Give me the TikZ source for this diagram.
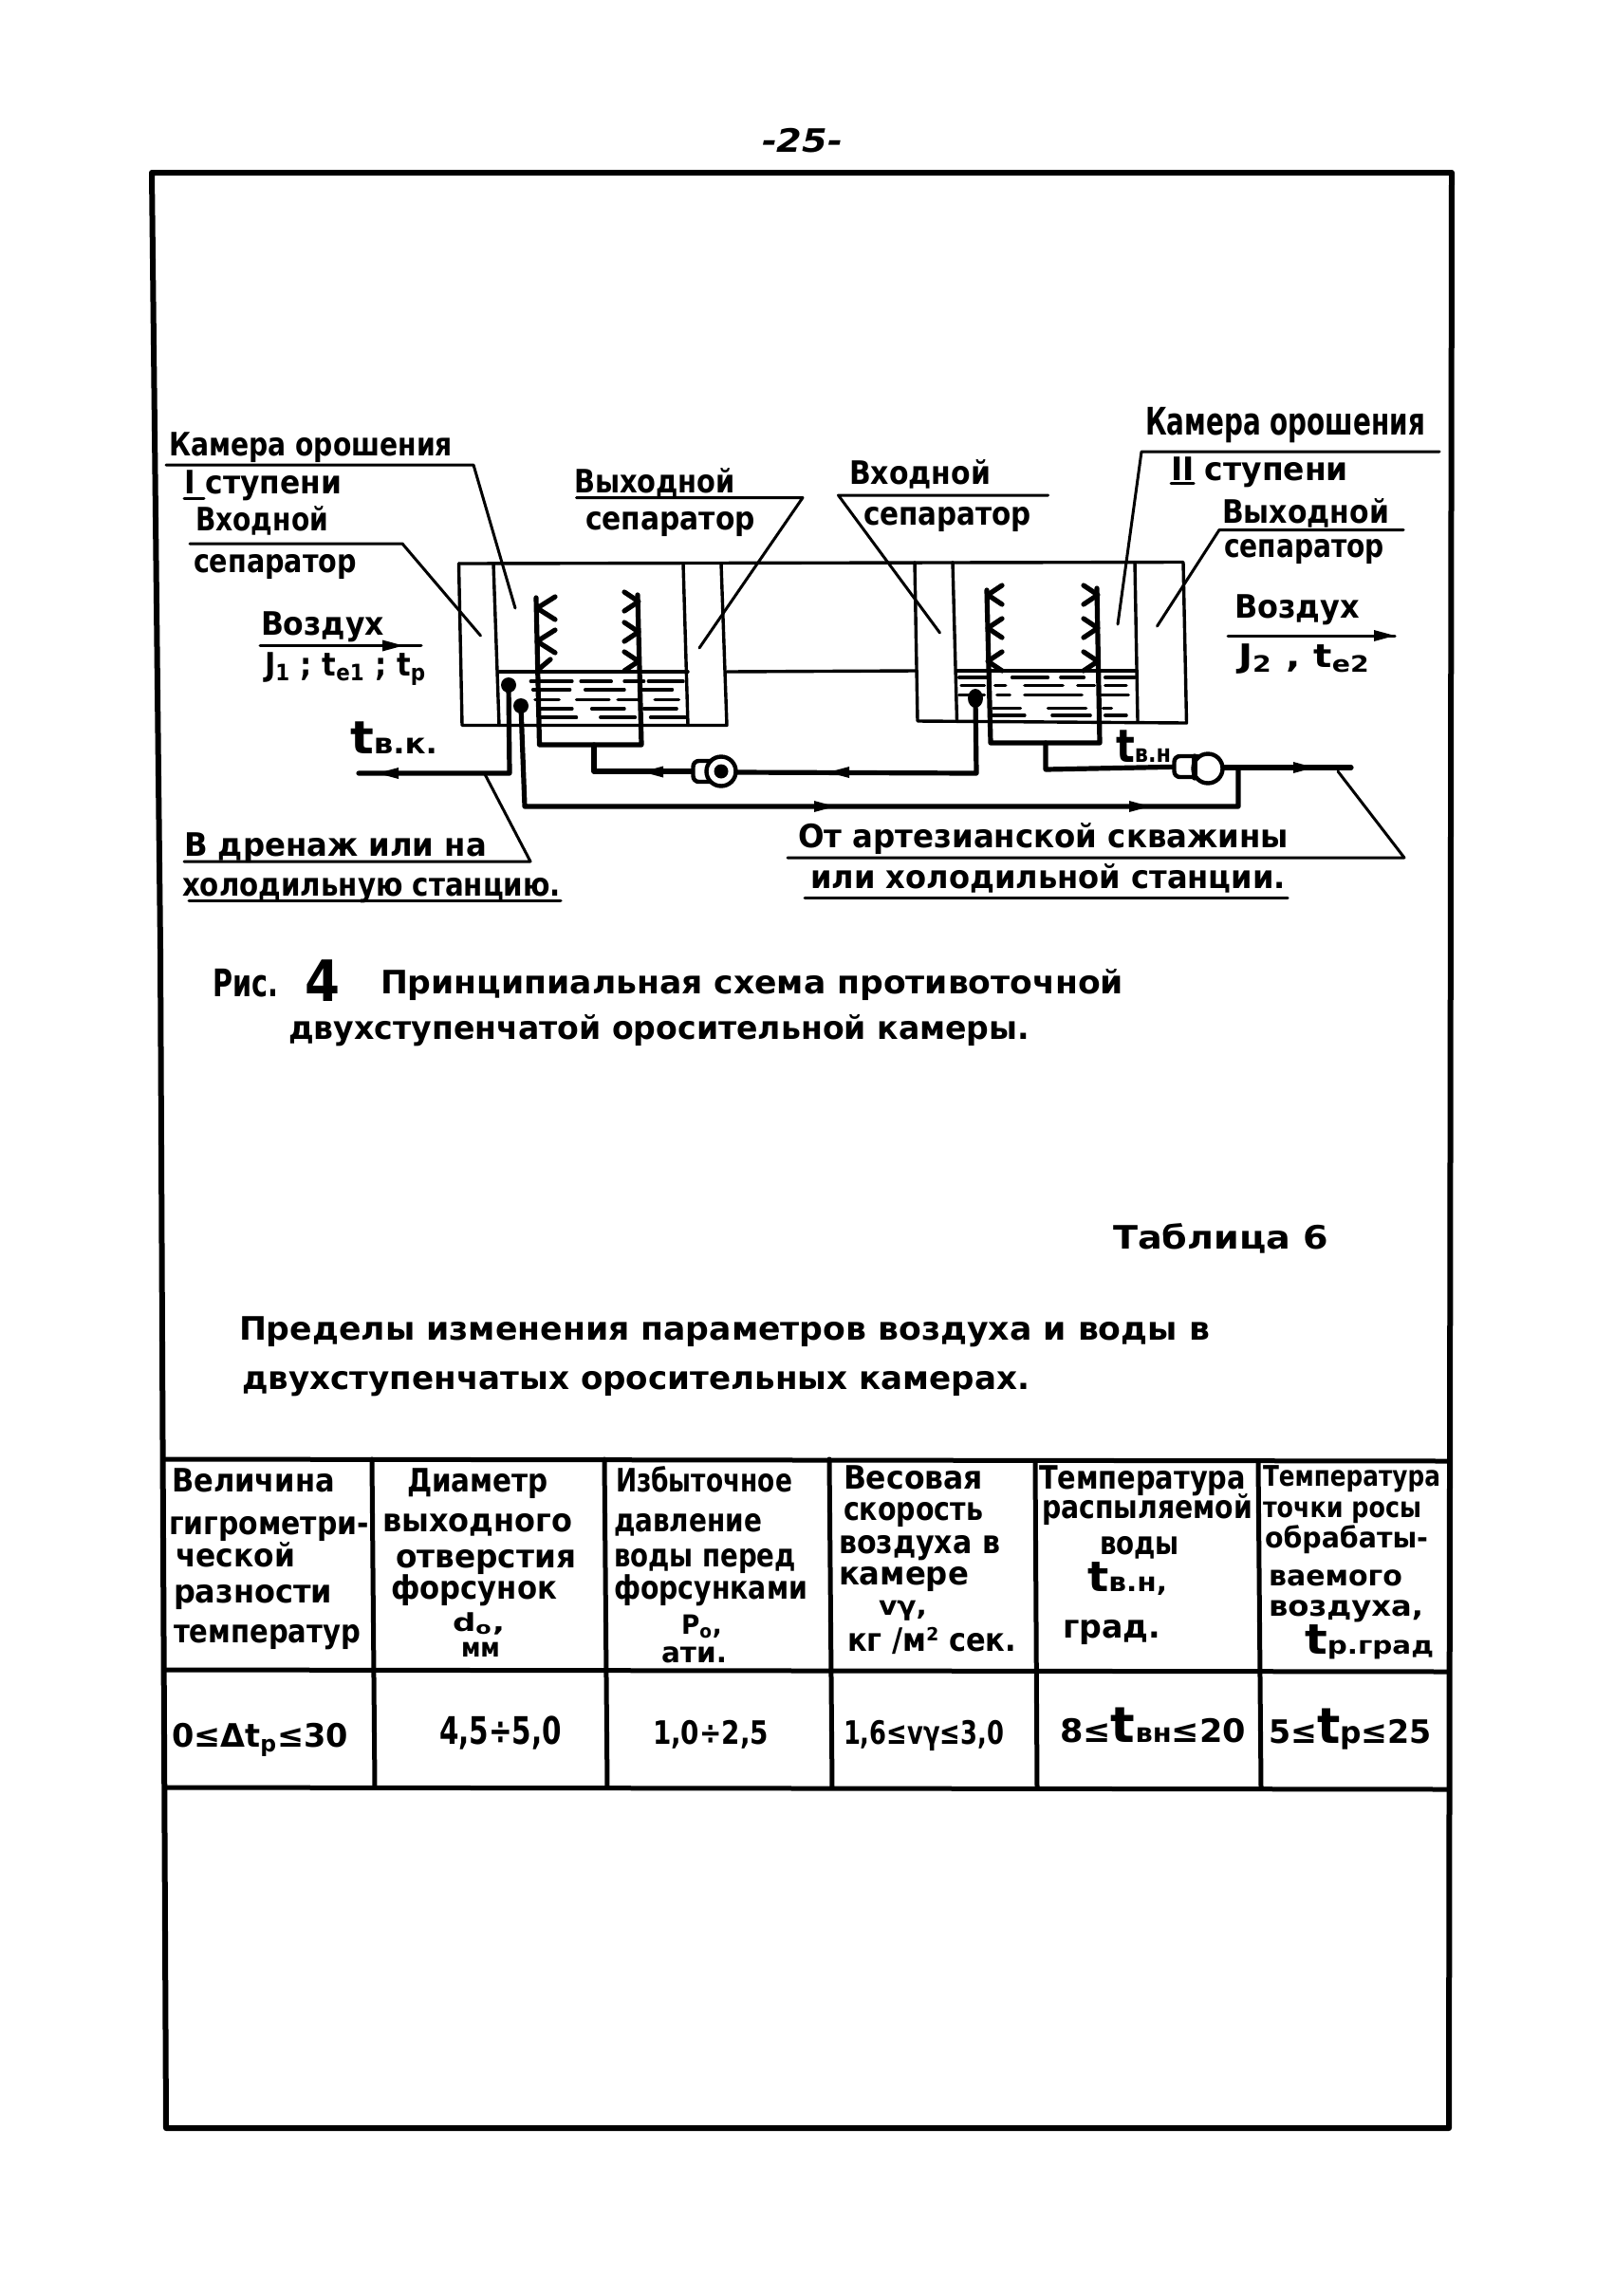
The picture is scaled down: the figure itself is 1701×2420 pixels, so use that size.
\documentclass[tikz,border=0pt]{standalone}
\usepackage{fontspec}
\usepackage{graphicx}
\setmainfont{DejaVu Sans}
\newdimen\pxu \pxu=0.5pt
\newcounter{lblc}
\tikzset{
  pagefont/.style={font=\bfseries\fontsize{17}{17}\selectfont},
  lbl/.style={pagefont,anchor=base west,inner sep=0pt,outer sep=0pt},
  framel/.style={line width=3pt,line cap=round,line join=round},
  tablel/.style={line width=2.5pt,line cap=round},
  wall/.style={line width=1.7pt,line join=round,line cap=round},
  pipe/.style={line width=2.6pt,line join=round,line cap=round},
  leader/.style={line width=1.5pt,line join=round,line cap=round},
  water/.style={line width=1.7pt,line cap=round},
  pumpc/.style={circle,draw,line width=2.2pt,fill=white,minimum size=15.5pt,inner sep=0pt},
  pumpr/.style={rectangle,rounded corners=3pt,draw,line width=2.2pt,fill=white,minimum width=14.5pt,minimum height=11pt,inner sep=0pt}
}
% x y width text
\newcommand\tl[4]{\stepcounter{lblc}\node[lbl] (t\arabic{lblc}) at (#1,#2) {\resizebox{#3\pxu}{\height}{#4}};}
\newcommand\sbs[1]{\textsubscript{#1}}
\newcommand\fsz[1]{\fontsize{#1}{#1}\selectfont}
\newcommand\arrR[2]{\fill (#1-22,#2-6) -- (#1,#2) -- (#1-22,#2+6) -- cycle;}
\newcommand\arrL[2]{\fill (#1+22,#2-6) -- (#1,#2) -- (#1+22,#2+6) -- cycle;}
\begin{document}
\begin{tikzpicture}[x=0.5pt,y=-0.5pt]
\useasboundingbox[fill=white] (0,0) rectangle (1701,2420);
% page frame
\draw[framel] (160,182) -- (1530,182) -- (1527,2243) -- (175,2243) -- (169,1000) -- cycle;
% table
\draw[tablel] (172,1538) -- (1527,1540);
\draw[tablel] (173,1760) -- (1527,1762);
\draw[tablel] (175,1884) -- (1527,1886);
\draw[tablel] (392,1538) -- (395,1884);
\draw[tablel] (637,1538) -- (640,1884);
\draw[tablel] (874,1538) -- (877,1884);
\draw[tablel] (1091,1540) -- (1093,1884);
\draw[tablel] (1326,1540) -- (1329,1884);
% chamber walls
\draw[wall] (483.5,594) -- (1247,592.5) -- (1250.5,762) -- (967,760) -- (964,592.5);
\draw[wall] (1004,592.5) -- (1008.5,760);
\draw[wall] (1196,592.5) -- (1199,760);
\draw[wall] (483.5,594) -- (487,764.5) -- (766,764.5) -- (760,594);
\draw[wall] (520,594) -- (526,764.5);
\draw[wall] (720,594) -- (725,764.5);
\draw[wall] (526,708) -- (725,708);
\draw[wall] (766,708) -- (965,707);
\draw[wall] (1008,707) -- (1198,707);
% water, left chamber
\begin{scope}[shift={(160,420)},x=.2295pt,y=-.1754pt]
\foreach \a/\b/\c in {870/965/850,985/1055/850,1085/1130/850,1140/1220/850,
 875/960/875,995/1085/875,1125/1195/875,
 880/935/905,975/1050/905,1070/1120/905,1155/1210/905,
 890/965/932,1010/1085/932,1130/1205/932,
 890/975/958,1030/1110/958,1145/1225/958}
 \draw[water] (\a,\c) -- (\b,\c);
\end{scope}
% water, right chamber
\begin{scope}[shift={(850,420)},x=.2232pt,y=-.1754pt]
\foreach \a/\b/\c in {360/430/838,485/570/838,600/655/838,705/775/838,
 365/420/862,445/470/862,515/605/862,640/680/862,705/755/862,
 360/420/890,450/480/890,515/650/890,695/760/890,
 440/505/930,570/660/930,700/720/930,
 440/515/952,580/670/952,705/755/952}
 \draw[water] (\a,\c) -- (\b,\c);
\end{scope}
% spray risers
\draw[pipe] (565,630) -- (568.5,785) -- (676,785) -- (672,627);
\draw[pipe] (1040,622) -- (1044,783) -- (1159,783) -- (1156,620);
% nozzles
\foreach \yy in {641,676}
 \draw[pipe] (585,\yy-12) -- (566,\yy) -- (585,\yy+12);
\draw[pipe] (567,706) -- (580,695);
\foreach \yy in {634,666,697}
 \draw[pipe] (658,\yy-10) -- (673,\yy) -- (658,\yy+10);
\foreach \yy in {627,662,697}
 \draw[pipe] (1056,\yy-10) -- (1041,\yy) -- (1056,\yy+10);
\foreach \yy in {627,662,697}
 \draw[pipe] (1142,\yy-10) -- (1157,\yy) -- (1142,\yy+10);
% pumps
\node[pumpr] (pumpLr) at (745,813) {};
\node[pumpr] (pumpRr) at (1252,808) {};
% pipework
\coordinate (dL) at (536,722);
\coordinate (dL2) at (549,744);
\coordinate (dR) at (1028,736);
\fill (dL) circle (8); \fill (dL2) circle (8); \fill (dR) ellipse (8 and 10);
\draw[pipe] (dL) -- (537,815) -- (378,815);
\draw[pipe] (dL2) -- (553,850) -- (1305,850) -- (1305,809);
\draw[pipe] (dR) -- (1029,815) -- (775,814);
\draw[pipe] (626,785) -- (626,813) -- (pumpLr);
\draw[pipe] (1102,783) -- (1102,811) -- (pumpRr);
\draw[pipe] (1289,809) -- (1424,809);
\arrL{398}{815}
\arrR{880}{850}
\arrR{1212}{850}
\arrL{873}{814}
\arrL{677}{813.5}
\arrR{1385}{809}
% pump circles on top
\node[pumpc] (pumpL) at (760,813) {};
\node[pumpc] (pumpR) at (1273,810) {};
\fill (pumpL) circle (7.5);
\draw[pipe] (1259,797) -- (1259,820);
% leaders
\draw[leader] (175,490) -- (499,490) -- (543,641);
\draw[leader] (200,573) -- (424,573) -- (506.5,670);
\draw[leader] (607.5,524.5) -- (846,524.5) -- (737,683);
\draw[leader] (1104.5,522) -- (883.5,522) -- (990.5,667);
\draw[leader] (1517,476) -- (1203,476) -- (1178,658);
\draw[leader] (1479,558.5) -- (1285,558.5) -- (1219.5,660);
\draw[leader] (194,908) -- (559,908) -- (511,816);
\draw[leader] (830,904) -- (1480,904) -- (1410,813);
\draw[leader] (199,949) -- (591,949);
\draw[leader] (848,946) -- (1357,946);
\draw[leader] (274,680.5) -- (444,680.5);
\draw[leader] (1294,670) -- (1470,670);
\draw[leader] (194,525) -- (215,525);
\draw[leader] (1234,509) -- (1258,509);
\arrR{425}{680.5}
\arrR{1470}{670}
% labels of the scheme
\tl{803}{160}{85}{\itshape -25-}
\tl{178}{480}{299}{Камера орошения}
\tl{194}{520}{166}{I ступени}
\tl{206}{559}{140}{Входной}
\tl{204}{603}{172}{сепаратор}
\tl{605}{519}{170}{Выходной}
\tl{617}{558}{179}{сепаратор}
\tl{895}{510}{149}{Входной}
\tl{910}{553}{177}{сепаратор}
\tl{1207}{458}{295}{\fsz{20}Камера орошения}
\tl{1234}{506}{187}{II ступени}
\tl{1288}{551}{176}{Выходной}
\tl{1290}{587}{169}{сепаратор}
\tl{275}{669}{130}{Воздух}
\tl{279}{712}{170}{J\sbs{1} ; t\sbs{e1} ; t\sbs{p}}
\tl{1301}{651}{132}{Воздух}
\tl{1305}{703}{139}{J\sbs{2} , t\sbs{e2}}
\tl{369}{794}{92}{\fsz{24}t\fsz{15}в.к.}
\tl{1176}{803}{58}{\fsz{24}t\fsz{13}в.н}
\tl{194}{902}{319}{В дренаж или на}
\tl{192}{944}{399}{холодильную станцию.}
\tl{841}{893}{517}{От артезианской скважины}
\tl{854}{936}{501}{или холодильной станции.}
% caption
\tl{224}{1050}{69}{\fsz{20}Рис.}
\tl{321}{1055}{37}{\fsz{30}4}
\tl{401}{1047}{783}{Принципиальная схема противоточной}
\tl{304}{1095}{781}{двухступенчатой оросительной камеры.}
\tl{1173}{1316}{227}{Таблица 6}
\tl{252}{1412}{1023}{Пределы изменения параметров воздуха и воды в}
\tl{255}{1464}{830}{двухступенчатых оросительных камерах.}
% table head, column 1
\tl{181}{1572}{172}{Величина}
\tl{178}{1617}{211}{гигрометри-}
\tl{185}{1651}{126}{ческой}
\tl{183}{1689}{167}{разности}
\tl{183}{1731}{197}{температур}
% column 2
\tl{429}{1572}{149}{Диаметр}
\tl{403}{1614}{200}{выходного}
\tl{417}{1652}{190}{отверстия}
\tl{412}{1685}{175}{форсунок}
\tl{477}{1719}{55}{\fsz{13}d\sbs{o},}
\tl{486}{1746}{41}{\fsz{14}мм}
% column 3
\tl{649}{1572}{186}{Избыточное}
\tl{647}{1614}{156}{давление}
\tl{647}{1651}{192}{воды перед}
\tl{647}{1685}{204}{форсунками}
\tl{718}{1722}{43}{\fsz{14}P\sbs{o},}
\tl{697}{1752}{69}{\fsz{15}ати.}
% column 4
\tl{889}{1569}{147}{Весовая}
\tl{889}{1602}{147}{скорость}
\tl{884}{1637}{170}{воздуха в}
\tl{884}{1670}{137}{камере}
\tl{926}{1702}{51}{\fsz{14}vγ,}
\tl{893}{1740}{178}{кг /м² сек.}
% column 5
\tl{1095}{1569}{218}{Температура}
\tl{1098}{1600}{222}{распыляемой}
\tl{1159}{1638}{84}{воды}
\tl{1146}{1677}{84}{\fsz{22}t\fsz{14}в.н,}
\tl{1120}{1726}{103}{град.}
% column 6
\tl{1331}{1566}{187}{\fsz{15}Температура}
\tl{1331}{1599}{167}{\fsz{15}точки росы}
\tl{1333}{1631}{172}{\fsz{15}обрабаты-}
\tl{1337}{1671}{141}{\fsz{15}ваемого}
\tl{1337}{1703}{163}{\fsz{15}воздуха,}
\tl{1375}{1743}{136}{\fsz{22}t\fsz{13}р.град}
% values
\tl{181}{1841}{186}{0≤Δt\sbs{р}≤30}
\tl{463}{1838}{129}{\fsz{20}4,5÷5,0}
\tl{688}{1838}{122}{1,0÷2,5}
\tl{889}{1838}{169}{1,6≤vγ≤3,0}
\tl{1117}{1836}{196}{8≤\fsz{26}t\fsz{14}вн\fsz{17}≤20}
\tl{1337}{1837}{172}{5≤\fsz{26}t\fsz{16}р\fsz{17}≤25}
\end{tikzpicture}
\end{document}
